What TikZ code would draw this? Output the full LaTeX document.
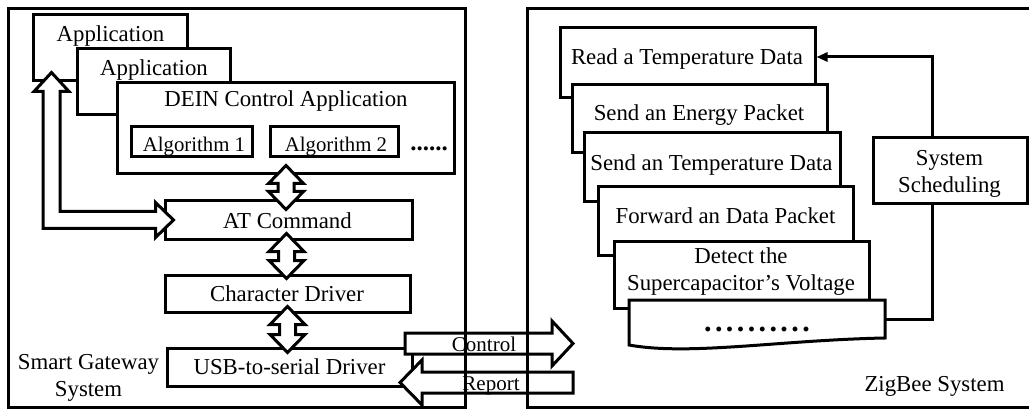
\documentclass[tikz,border=0pt]{standalone}
\usepackage{fontspec}
\setmainfont{Liberation Serif}
\usetikzlibrary{calc,arrows.meta}
\newcommand\vdarr[2]{\draw[hol] let \p1=(#1), \p2=(#2) in
  (\x1,\y1) -- (\x1+17.5pt,\y1-18pt) -- (\x1+8pt,\y1-18pt) -- (\x1+8pt,\y2+18pt)
  -- (\x1+17.5pt,\y2+18pt) -- (\x1,\y2) -- (\x1-17.5pt,\y2+18pt) -- (\x1-8pt,\y2+18pt)
  -- (\x1-8pt,\y1-18pt) -- (\x1-17.5pt,\y1-18pt) -- cycle;}
\newcommand\spd{.\kern3.4pt}
\begin{document}
\begin{tikzpicture}[x=1pt,y=-1pt,
  box/.style 2 args={draw,line width=3pt,fill=white,inner sep=0pt,rectangle,
    minimum width=#1pt,minimum height=#2pt},
  txt/.style={font=\fontsize{22.8}{27}\selectfont,inner sep=0pt,anchor=base,align=center},
  stxt/.style={font=\fontsize{20.8}{24}\selectfont,inner sep=0pt,anchor=base},
  atxt/.style={font=\fontsize{21}{24}\selectfont,inner sep=0pt,anchor=base},
  hol/.style={draw,line width=3pt,fill=white,line join=miter},
  conn/.style={draw,line width=3pt},
  frame/.style={draw,line width=3pt}]
\useasboundingbox (0,0) rectangle (1029,409);

% ---------- left: smart gateway ----------
\node[box={154}{66}] (app1) at (110,48) {};
\node[txt] (app1t) at (110.5,42) {Application};
\node[box={153}{66}] (app2) at (153.5,82) {};
\node[txt] (app2t) at (154,76) {Application};
\node[box={337}{91}] (dein) at (285.5,128.5) {};
\node[txt] (deint) at (286,106.7) {DEIN Control Application};
\node[box={121}{30}] (alg1) at (191.5,142) {};
\node[stxt] (alg1t) at (194,151.5) {Algorithm 1};
\node[box={128}{30}] (alg2) at (334,142) {};
\node[stxt] (alg2t) at (336,151.5) {Algorithm 2};
\node[inner sep=0pt,anchor=base,font=\fontsize{25}{25}\selectfont\bfseries] (more) at (429,151) {......};

\node[box={247}{38}] (at) at (288.5,220) {};
\node[txt] (att) at (287.5,228.3) {AT Command};
\node[box={245}{37}] (chr) at (287.5,293.5) {};
\node[txt] (chrt) at (287,301.7) {Character Driver};
\node[box={245}{38}] (usb) at (289.5,367) {};
\node[txt] (usbt) at (289.5,374) {USB-to-serial Driver};
\node[txt] (sgs) at (88.5,396.7) {Smart Gateway\\System};

% hollow L arrow from Application to AT Command
\draw[hol] let \p1=($(app1.south)+(-58.5,-10)$), \p2=($(at.west)+(10,0)$) in
  (\x1,\y1) -- (\x1+17.5pt,\y1-19pt) -- (\x1+8.5pt,\y1-19pt) -- (\x1+8.5pt,\y2+8.5pt)
  -- (\x2-18pt,\y2+8.5pt) -- (\x2-18pt,\y2+17.5pt) -- (\x2,\y2) -- (\x2-18pt,\y2-17.5pt)
  -- (\x2-18pt,\y2-8.5pt) -- (\x1-8.5pt,\y2-8.5pt) -- (\x1-8.5pt,\y1-19pt)
  -- (\x1-17.5pt,\y1-19pt) -- cycle;

% vertical double arrows
\vdarr{$(dein.south)+(0.5,-10)$}{$(at.north)+(0,10)$}
\vdarr{$(at.south)+(-2,-7)$}{$(chr.north)+(0,5)$}
\vdarr{$(chr.south)+(0,-7)$}{$(usb.north)+(0,6)$}

% ---------- right: ZigBee ----------
\node[box={255}{70}] (read) at (687.5,63) {};
\node[txt] (readt) at (687,65) {Read a Temperature Data};
\node[box={255}{68}] (energy) at (699.5,119) {};
\node[txt] (energyt) at (699,120.7) {Send an Energy Packet};
\node[box={256}{69}] (sendt) at (712,167.5) {};
\node[txt] (sendtt) at (711.5,170.7) {Send an Temperature Data};
\node[box={255}{68}] (fwd) at (725.5,221) {};
\node[txt] (fwdt) at (725.5,223.3) {Forward an Data Packet};
\node[box={255}{67}] (detect) at (741.5,274.5) {};
\node[txt] (detectt) at (741,290.5) {Detect the\\Supercapacitor’s Voltage};
% document-shaped box with wavy bottom
\coordinate (dbTL) at (629,300);
\coordinate (dbTR) at (885,300);
\draw[hol] (dbTL) -- (dbTR) -- (885,338) .. controls (780,340) and (690,356) .. (629,345) -- cycle;
\coordinate (dbE) at (885,319);
\node[inner sep=0pt,anchor=base,font=\fontsize{30}{30}\selectfont\bfseries] (dotst) at (757,331)
  {\spd\spd\spd\spd\spd\spd\spd\spd\spd.};

\node[box={154}{66}] (sched) at (950,171) {};
\node[txt] (schedt) at (949.5,192.7) {System\\Scheduling};
\node[txt] (zig) at (934.5,391.7) {ZigBee System};

\coordinate (sTop) at (932,57);
\coordinate (sBot) at (932,319);
\draw[conn,-{Triangle[length=11pt,width=9pt]}] (sched.north -| sTop) -- (sTop) -- (sTop -| read.east);
\draw[conn] (sched.south -| sBot) -- (sBot) -- (dbE);

% ---------- block arrows between systems ----------
\coordinate (ctlS) at (405,343.5);
\coordinate (ctlE) at (573,343.5);
\draw[hol] (ctlS) ++(0,-10.5) -- (552,333) -- (552,321) -- (ctlE) -- (552,366) -- (552,354) -- (405,354) -- cycle;
\node[atxt] (ctlt) at (484,351.7) {Control};
\coordinate (repS) at (573,382.5);
\coordinate (repE) at (400,382.5);
\draw[hol] (repS) ++(0,-10.5) -- (422,372) -- (422,360) -- (repE) -- (422,405) -- (422,393) -- (573,393) -- cycle;
\node[atxt] (rept) at (491,390) {Report};

% ---------- outer frames ----------
\draw[frame] (8,9) rectangle (465,407);
\draw[frame] (527,9) rectangle (1040,407);
\end{tikzpicture}
\end{document}
